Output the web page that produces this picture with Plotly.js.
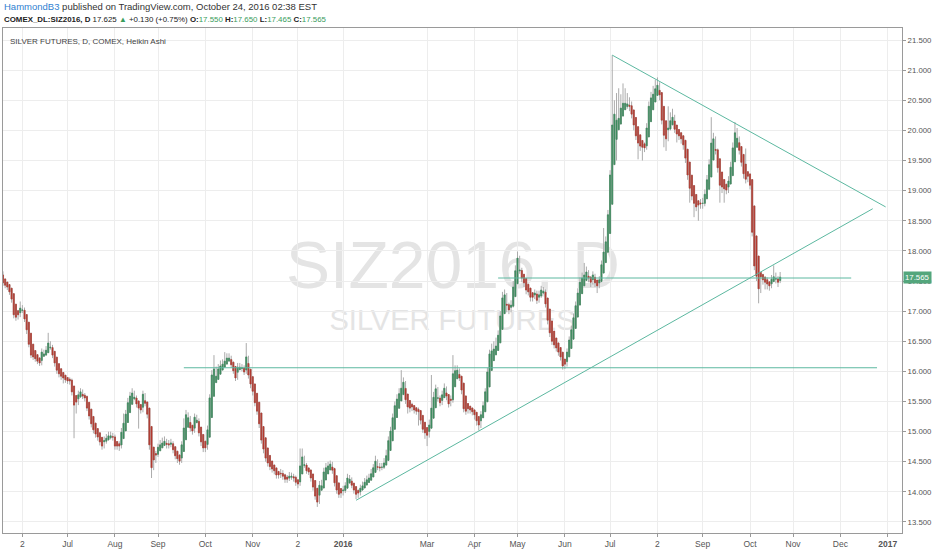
<!DOCTYPE html>
<html>
<head>
<meta charset="utf-8">
<script src="https://cdn.plot.ly/plotly-3.0.1.min.js"></script>
<style>
  html, body { margin: 0; padding: 0; background: #fff; }
  #chart { width: 932px; height: 550px; }
</style>
</head>
<body>
<div id="chart"></div>
<script>
// Heikin Ashi daily candles, SIZ2016, one value per trading day
const haClose = [
  17.47,17.43,17.40,17.32,17.20,16.94,16.90,16.94,17.05,17.02,
  16.87,16.69,16.45,16.27,16.24,16.21,16.17,16.14,16.32,16.29,
  16.35,16.47,16.40,16.27,16.14,16.02,15.96,15.92,15.89,15.86,
  15.84,15.84,15.66,15.44,15.49,15.61,15.66,15.59,15.56,15.39,
  15.26,15.13,15.03,14.96,14.91,14.83,14.76,14.85,14.89,14.93,
  14.93,14.91,14.76,14.76,14.76,14.99,15.14,15.29,15.48,15.59,
  15.64,15.57,15.46,15.39,15.36,15.62,15.47,15.29,14.78,14.40,
  14.53,14.61,14.74,14.78,14.81,14.84,14.79,14.78,14.81,14.70,
  14.60,14.55,14.51,14.78,15.06,15.28,15.23,15.06,15.01,15.24,
  15.19,14.98,14.83,14.73,14.73,15.03,15.56,15.94,16.04,15.92,
  16.04,16.09,16.12,16.17,16.22,16.22,16.11,16.01,15.89,16.07,
  16.07,16.06,15.99,16.24,15.94,15.79,15.67,15.48,15.34,15.13,
  14.86,14.71,14.56,14.48,14.42,14.38,14.35,14.28,14.28,14.30,
  14.26,14.21,14.21,14.26,14.26,14.23,14.16,14.13,14.43,14.58,
  14.45,14.35,14.33,14.23,14.08,13.93,13.83,14.11,14.10,14.33,
  14.40,14.43,14.46,14.36,14.15,14.03,13.96,13.98,14.03,14.10,
  14.23,14.21,14.11,14.03,13.96,13.98,14.06,14.10,14.16,14.20,
  14.23,14.30,14.40,14.51,14.41,14.40,14.41,14.48,14.60,14.85,
  15.01,15.23,15.43,15.54,15.63,15.72,15.82,15.53,15.41,15.39,
  15.41,15.36,15.34,15.33,15.19,15.04,14.98,14.94,15.11,15.39,
  15.57,15.71,15.56,15.48,15.61,15.72,15.59,15.46,15.52,15.96,
  16.01,16.02,15.89,15.69,15.38,15.34,15.38,15.36,15.33,15.28,
  15.18,15.11,15.28,15.43,15.66,15.99,16.29,16.34,16.37,16.42,
  16.60,16.92,17.22,17.27,17.10,17.02,17.10,17.40,17.67,17.88,
  17.68,17.55,17.47,17.35,17.32,17.23,17.23,17.30,17.18,17.27,
  17.35,17.33,17.12,16.85,16.64,16.50,16.44,16.39,16.32,16.24,
  16.09,16.12,16.32,16.52,16.69,16.89,17.09,17.30,17.48,17.55,
  17.60,17.65,17.55,17.48,17.60,17.47,17.42,17.52,17.77,17.98,
  18.15,18.60,19.26,20.09,20.27,20.17,20.20,20.37,20.45,20.45,
  20.44,20.40,20.27,20.09,19.91,19.79,19.74,19.72,19.71,20.04,
  20.40,20.54,20.60,20.69,20.75,20.59,20.17,19.92,19.86,20.04,
  20.16,20.22,20.02,19.94,19.91,19.86,19.76,19.54,19.26,19.04,
  18.91,18.79,18.73,18.76,18.78,18.79,18.94,19.18,19.43,19.79,
  19.86,19.67,19.38,19.09,19.06,19.03,19.01,19.16,19.39,19.71,
  19.96,19.87,19.67,19.47,19.28,19.19,19.24,19.09,18.31,17.75,
  17.58,17.37,17.57,17.52,17.48,17.45,17.42,17.53,17.57,17.54,
  17.48,17.565
];

const haHigh = [
  17.66,17.52,17.47,17.44,17.36,17.24,17.00,17.02,17.16,17.10,
  17.06,16.92,16.72,16.50,16.33,16.30,16.26,16.22,16.38,16.36,
  16.42,16.64,16.50,16.44,16.30,16.18,16.06,16.00,15.96,15.94,
  15.90,15.90,15.88,15.70,15.56,15.68,15.72,15.70,15.64,15.60,
  15.42,15.30,15.18,15.08,15.00,14.96,14.88,14.92,14.96,15.00,
  15.00,14.98,14.95,14.82,14.84,15.06,15.30,15.36,15.56,15.66,
  15.72,15.68,15.60,15.50,15.44,15.68,15.64,15.50,15.32,14.82,
  14.62,14.68,14.80,14.86,14.90,14.92,14.88,14.86,14.88,14.84,
  14.74,14.64,14.60,14.84,15.22,15.36,15.32,15.26,15.10,15.30,
  15.28,15.22,15.02,14.86,14.80,15.10,15.62,16.02,16.27,16.08,
  16.12,16.18,16.20,16.32,16.30,16.30,16.26,16.16,16.04,16.14,
  16.14,16.12,16.10,16.47,16.26,15.98,15.82,15.70,15.52,15.38,
  15.16,14.90,14.74,14.60,14.52,14.46,14.42,14.39,14.34,14.38,
  14.36,14.30,14.28,14.33,14.32,14.30,14.27,14.20,14.72,14.72,
  14.60,14.48,14.40,14.36,14.26,14.12,13.96,14.18,14.20,14.40,
  14.48,14.50,14.52,14.50,14.40,14.18,14.06,14.04,14.10,14.16,
  14.30,14.28,14.24,14.14,14.06,14.04,14.12,14.17,14.23,14.27,
  14.30,14.38,14.46,14.60,14.54,14.48,14.48,14.56,14.70,14.92,
  15.08,15.30,15.50,15.62,15.72,16.02,15.90,15.84,15.56,15.46,
  15.48,15.44,15.40,15.40,15.36,15.22,15.08,15.02,15.20,15.94,
  15.66,15.78,15.74,15.60,15.68,15.80,15.75,15.62,15.60,16.27,
  16.10,16.10,16.05,15.92,15.72,15.42,15.44,15.42,15.40,15.36,
  15.32,15.22,15.34,15.50,15.72,16.06,16.36,16.46,16.50,16.56,
  16.68,17.00,17.32,17.36,17.30,17.14,17.18,17.50,17.76,17.99,
  17.92,17.72,17.58,17.50,17.40,17.36,17.30,17.36,17.34,17.34,
  17.42,17.40,17.36,17.15,16.88,16.67,16.54,16.48,16.42,16.35,
  16.27,16.18,16.38,16.58,16.76,16.96,17.16,17.38,17.56,17.64,
  17.80,17.74,17.68,17.58,17.66,17.62,17.50,17.58,17.84,18.38,
  18.24,18.68,19.34,21.25,20.50,20.62,20.70,20.60,20.78,20.70,
  20.62,20.55,20.48,20.32,20.14,19.96,19.84,19.82,19.80,20.12,
  20.48,20.64,20.74,20.84,20.88,20.80,20.62,20.20,19.96,20.40,
  20.30,20.36,20.26,20.06,19.98,19.94,19.90,19.80,19.58,19.30,
  19.08,18.94,18.82,18.82,18.86,18.88,19.02,19.26,19.52,20.22,
  19.96,19.90,19.70,19.42,19.14,19.10,19.08,19.24,19.48,19.80,
  20.14,20.04,19.90,19.70,19.52,19.70,19.30,19.28,19.12,18.34,
  17.80,17.62,17.64,17.62,17.58,17.56,17.50,17.60,17.76,17.64,
  17.58,17.65
];

const haLow = [
  17.42,17.38,17.35,17.27,17.14,16.88,16.84,16.86,16.90,16.97,
  16.82,16.62,16.40,16.22,16.19,16.16,16.12,16.09,16.10,16.24,
  16.26,16.31,16.36,16.22,16.08,15.96,15.90,15.86,15.80,15.81,
  15.79,15.78,15.60,14.89,15.30,15.44,15.56,15.54,15.50,15.34,
  15.20,15.07,14.97,14.90,14.85,14.77,14.70,14.72,14.80,14.85,
  14.87,14.85,14.70,14.70,14.68,14.72,14.95,15.10,15.25,15.44,
  15.55,15.52,15.40,15.05,15.30,15.32,15.42,15.22,14.70,14.23,
  14.36,14.48,14.58,14.70,14.74,14.76,14.72,14.72,14.74,14.64,
  14.54,14.48,14.45,14.48,14.74,15.02,15.18,15.00,14.95,14.98,
  15.14,14.92,14.76,14.66,14.66,14.70,15.00,15.52,15.90,15.86,
  15.88,16.00,16.05,16.08,16.14,16.16,16.06,15.96,15.84,15.86,
  16.02,16.00,15.94,15.96,15.88,15.72,15.60,15.42,15.28,15.06,
  14.80,14.64,14.50,14.42,14.36,14.32,14.29,14.22,14.22,14.23,
  14.20,14.15,14.15,14.18,14.20,14.17,14.10,14.06,14.10,14.40,
  14.40,14.30,14.28,14.17,14.02,13.87,13.75,13.80,14.04,14.06,
  14.30,14.36,14.38,14.30,14.09,13.97,13.90,13.90,13.94,13.98,
  14.06,14.16,14.06,13.97,13.88,13.90,13.94,14.02,14.06,14.12,
  14.16,14.20,14.26,14.36,14.36,14.34,14.36,14.38,14.44,14.56,
  14.80,14.98,15.18,15.40,15.50,15.58,15.68,15.46,15.30,15.32,
  15.34,15.30,15.28,15.10,15.12,14.98,14.88,14.76,14.90,15.06,
  15.34,15.52,15.50,15.42,15.44,15.56,15.52,15.40,15.42,15.48,
  15.90,15.96,15.84,15.62,15.32,15.28,15.30,15.30,15.27,15.20,
  15.10,15.02,15.06,15.24,15.40,15.62,15.94,16.24,16.30,16.34,
  16.38,16.56,16.88,17.10,16.98,16.95,16.98,17.06,17.36,17.62,
  17.62,17.48,17.40,17.28,17.26,17.16,17.16,17.20,17.12,17.14,
  17.22,17.28,17.06,16.78,16.57,16.44,16.38,16.33,16.26,16.18,
  16.03,16.04,16.08,16.28,16.48,16.64,16.84,17.04,17.26,17.44,
  17.50,17.56,17.48,17.40,17.44,17.40,17.30,17.38,17.48,17.72,
  17.94,18.10,18.56,19.22,19.70,19.50,20.10,20.14,20.30,20.38,
  20.36,20.32,20.20,20.00,19.84,19.52,19.66,19.50,19.64,19.68,
  20.00,20.36,20.50,20.56,20.64,20.50,20.10,19.72,19.66,19.82,
  20.00,20.10,19.96,19.80,19.84,19.78,19.68,19.46,19.18,18.80,
  18.84,18.56,18.66,18.50,18.70,18.70,18.74,18.90,19.14,19.38,
  19.74,19.60,19.30,18.80,18.96,18.80,18.94,18.96,19.12,19.34,
  19.66,19.80,19.60,19.40,19.20,19.12,19.14,19.02,18.24,17.68,
  17.50,17.13,17.30,17.44,17.36,17.36,17.34,17.38,17.48,17.46,
  17.40,17.465
];

const firstOpen = 17.60;

// x axis labels, placed at trading-day index
const tickIdx  = [9, 30, 52, 72, 94, 116, 137, 158, 197, 219, 239, 261, 282, 304, 325, 347, 367, 389, 411];
const tickText = ['2', 'Jul', 'Aug', 'Sep', 'Oct', 'Nov', '2', '<b>2016</b>', 'Mar', 'Apr', 'May', 'Jun', 'Jul', '2', 'Sep', 'Oct', 'Nov', 'Dec', '<b>2017</b>'];

// drawn trend lines: [startIdx, endIdx] and [startPrice, endPrice]
const lineIdx   = [[283, 410], [164, 404], [230, 394], [84, 406]];
const linePrice = [[21.25, 18.73], [13.86, 18.70], [17.55, 17.55], [16.06, 16.06]];

const lastPrice = 17.565;

// ---- build ----
const W = 932, H = 550;
const M = { l: 3, r: 30, t: 28, b: 17 };
const px = v => (v - M.l) / (W - M.l - M.r);
const py = v => (H - M.b - v) / (H - M.t - M.b);

const FONT = 'Liberation Sans, Arial, sans-serif';
const GREEN = '#3d8c5e';
const RED = '#b23b30';
const WICK = '#ababab';
const TEAL = '#5cb8a0';

const n = Math.min(haClose.length, haHigh.length, haLow.length);
const idx = [];
const haOpen = [];
for (let i = 0; i < n; i++) {
  idx.push(i);
  // Heikin Ashi open: midpoint of the previous candle body
  haOpen.push(i === 0 ? firstOpen : (haOpen[i - 1] + haClose[i - 1]) / 2);
}
const bodyHigh = idx.map(i => Math.max(haOpen[i], haClose[i]));
const bodyLow = idx.map(i => Math.min(haOpen[i], haClose[i]));
const wickHigh = idx.map(i => Math.max(haHigh[i], bodyHigh[i]));
const wickLow = idx.map(i => Math.min(haLow[i], bodyLow[i]));

const wicks = {
  type: 'candlestick',
  x: idx, open: haOpen, close: haClose.slice(0, n), high: wickHigh, low: wickLow,
  increasing: { line: { color: WICK, width: 1 }, fillcolor: WICK },
  decreasing: { line: { color: WICK, width: 1 }, fillcolor: WICK },
  hoverinfo: 'skip', showlegend: false
};

const bodies = {
  type: 'candlestick',
  x: idx, open: haOpen, close: haClose.slice(0, n), high: bodyHigh, low: bodyLow,
  increasing: { line: { color: GREEN, width: 0.6 }, fillcolor: GREEN },
  decreasing: { line: { color: RED, width: 0.6 }, fillcolor: RED },
  hoverinfo: 'skip', showlegend: false
};

const trendTraces = lineIdx.map((xs, k) => ({
  type: 'scatter', mode: 'lines',
  x: xs, y: linePrice[k],
  line: { color: TEAL, width: 1 },
  hoverinfo: 'skip', showlegend: false
}));

const green = '#3a9d5d';
const header2 =
  '<b>COMEX_DL:SIZ2016, D</b> 17.625 <span style="color:' + green + '">▲</span> +0.130 (+0.75%) ' +
  '<b>O:</b><span style="color:' + green + '">17.550</span> ' +
  '<b>H:</b><span style="color:' + green + '">17.650</span> ' +
  '<b>L:</b><span style="color:' + green + '">17.465</span> ' +
  '<b>C:</b><span style="color:' + green + '">17.565</span>';

const layout = {
  width: W, height: H,
  margin: M,
  paper_bgcolor: '#ffffff',
  plot_bgcolor: '#ffffff',
  font: { family: FONT, size: 9, color: '#555' },
  showlegend: false,
  hovermode: false,
  xaxis: {
    type: 'linear',
    range: [0, 417.6],
    tickvals: tickIdx, ticktext: tickText,
    ticks: 'outside', ticklen: 3, tickcolor: '#999',
    showgrid: true, gridcolor: '#ededed', gridwidth: 1,
    showline: true, linecolor: '#9a9a9a', mirror: true,
    zeroline: false,
    tickfont: { size: 8.5, color: '#555' },
    rangeslider: { visible: false },
    fixedrange: true
  },
  yaxis: {
    side: 'right',
    range: [13.317, 21.70],
    tick0: 13.5, dtick: 0.5, tickformat: '.3f',
    ticks: 'outside', ticklen: 3, tickcolor: '#999',
    showgrid: true, gridcolor: '#ededed', gridwidth: 1,
    showline: true, linecolor: '#9a9a9a', mirror: true,
    zeroline: false,
    tickfont: { size: 7.8, color: '#555' },
    fixedrange: true
  },
  shapes: [
    {
      type: 'rect', xref: 'paper', yref: 'paper', layer: 'below',
      x0: px(280), x1: px(626), y0: py(291), y1: py(227),
      line: { width: 0 }, fillcolor: 'rgba(0,0,0,0)',
      label: { text: 'SIZ2016, D', textposition: 'middle center',
               font: { family: FONT, size: 66, color: '#e4e4e4' } }
    },
    {
      type: 'rect', xref: 'paper', yref: 'paper', layer: 'below',
      x0: px(320), x1: px(585), y0: py(334), y1: py(300),
      line: { width: 0 }, fillcolor: 'rgba(0,0,0,0)',
      label: { text: 'SILVER FUTURES', textposition: 'middle center',
               font: { family: FONT, size: 29, color: '#e4e4e4' } }
    }
  ],
  annotations: [
    {
      xref: 'paper', yref: 'paper', x: px(2), y: py(7), xanchor: 'left', yanchor: 'middle',
      showarrow: false,
      text: '<span style="color:#2f7fd1">HammondB3</span> published on TradingView.com, October 24, 2016 02:38 EST',
      font: { family: FONT, size: 9.5, color: '#333' }
    },
    {
      xref: 'paper', yref: 'paper', x: px(2), y: py(20), xanchor: 'left', yanchor: 'middle',
      showarrow: false, text: header2,
      font: { family: FONT, size: 7.9, color: '#222' }
    },
    {
      xref: 'paper', yref: 'paper', x: px(8), y: py(41), xanchor: 'left', yanchor: 'middle',
      showarrow: false, text: 'SILVER FUTURES, D, COMEX, Heikin Ashi',
      font: { family: FONT, size: 8, color: '#444' }
    },
    {
      xref: 'paper', yref: 'y', x: 1, y: lastPrice, xanchor: 'left', yanchor: 'middle',
      showarrow: false, text: lastPrice.toFixed(3), xshift: 1,
      bgcolor: '#53a67c', borderpad: 1,
      font: { family: FONT, size: 7.8, color: '#ffffff' }
    }
  ]
};

Plotly.newPlot('chart', [wicks, bodies, ...trendTraces], layout, { displayModeBar: false, staticPlot: true });
</script>
</body>
</html>
